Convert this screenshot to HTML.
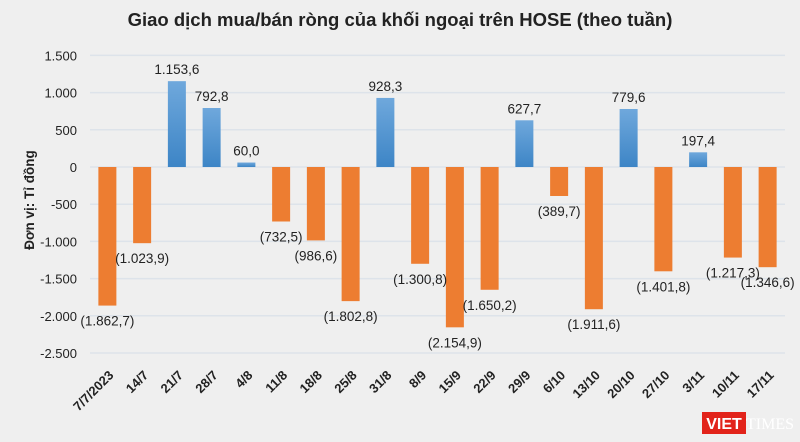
<!DOCTYPE html>
<html><head><meta charset="utf-8"><style>
body{margin:0;background:#efefef;}
svg{display:block;font-family:"Liberation Sans",sans-serif;}
</style></head><body>
<svg id="c" width="800" height="442">
<rect width="800" height="442" fill="#efefef"/>
<text x="400" y="26" text-anchor="middle" font-size="18.5" font-weight="bold" fill="#222">Giao dịch mua/bán ròng của khối ngoại trên HOSE (theo tuần)</text>
<text transform="translate(34,200) rotate(-90)" text-anchor="middle" font-size="13.5" font-weight="bold" fill="#222">Đơn vị: Tỉ đồng</text>
<g id="grid"></g><g id="bars"></g><g id="labels"></g>
<g>
<rect x="702" y="412" width="44" height="22" fill="#e2231a"/>
<text x="724" y="429" text-anchor="middle" font-size="16" font-weight="bold" fill="#fff">VIET</text>
<text x="746" y="429" font-size="16" fill="#fff" font-family="Liberation Serif,serif">TIMES</text>
</g>
</svg>
<script>
const cats=["7/7/2023","14/7","21/7","28/7","4/8","11/8","18/8","25/8","31/8","8/9","15/9","22/9","29/9","6/10","13/10","20/10","27/10","3/11","10/11","17/11"];
const values=[-1862.7,-1023.9,1153.6,792.8,60.0,-732.5,-986.6,-1802.8,928.3,-1300.8,-2154.9,-1650.2,627.7,-389.7,-1911.6,779.6,-1401.8,197.4,-1217.3,-1346.6];
const valueLabels=["(1.862,7)","(1.023,9)","1.153,6","792,8","60,0","(732,5)","(986,6)","(1.802,8)","928,3","(1.300,8)","(2.154,9)","(1.650,2)","627,7","(389,7)","(1.911,6)","779,6","(1.401,8)","197,4","(1.217,3)","(1.346,6)"];
const ticks=[1500,1000,500,0,-500,-1000,-1500,-2000,-2500];
const tickLabels=["1.500","1.000","500","0","-500","-1.000","-1.500","-2.000","-2.500"];
const NS="http://www.w3.org/2000/svg";
const x0=90,x1=785,n=cats.length,step=(x1-x0)/n,bw=18;
const y=v=>167-v*0.0744;
const xc=i=>x0+step*(i+0.5);
const svg=document.getElementById('c');
const grid=document.getElementById('grid'),bars=document.getElementById('bars'),lab=document.getElementById('labels');
const defs=document.createElementNS(NS,'defs');
defs.innerHTML='<linearGradient id="bl" x1="0" y1="0" x2="0" y2="1"><stop offset="0" stop-color="#6fa8dc"/><stop offset="1" stop-color="#3d85c6"/></linearGradient>';
svg.insertBefore(defs,svg.firstChild);
function mk(tag,attrs,parent){const e=document.createElementNS(NS,tag);for(const k in attrs)e.setAttribute(k,attrs[k]);parent.appendChild(e);return e;}
ticks.forEach((t,i)=>{
 const l=mk('line',{x1:x0,x2:x1,y1:y(t),y2:y(t),stroke:'#dde3ea','stroke-width':1.5},grid);
 
 
 const tx=mk('text',{x:77,y:y(t)+5,'text-anchor':'end','font-size':13,fill:'#222'},grid);
 tx.textContent=tickLabels[i];
 
 
});
values.forEach((v,i)=>{
 const cx=xc(i);
 const r=mk('rect',{x:cx-bw/2,y:Math.min(y(v),y(0)),width:bw,height:Math.abs(y(v)-y(0)),fill:v>=0?'url(#bl)':'#ed7d31'},bars);
 
 
 const t=mk('text',{x:cx,y:v>=0?y(v)-7:y(v)+20,'text-anchor':'middle','font-size':13.5,fill:'#222'},lab);
 t.textContent=valueLabels[i];
 
 
 const c=mk('text',{transform:`translate(${cx+7},${376}) rotate(-45)`,'text-anchor':'end','font-size':13,'font-weight':'bold',fill:'#222'},lab);
 c.textContent=cats[i];
 
 
});
</script>
</body></html>
